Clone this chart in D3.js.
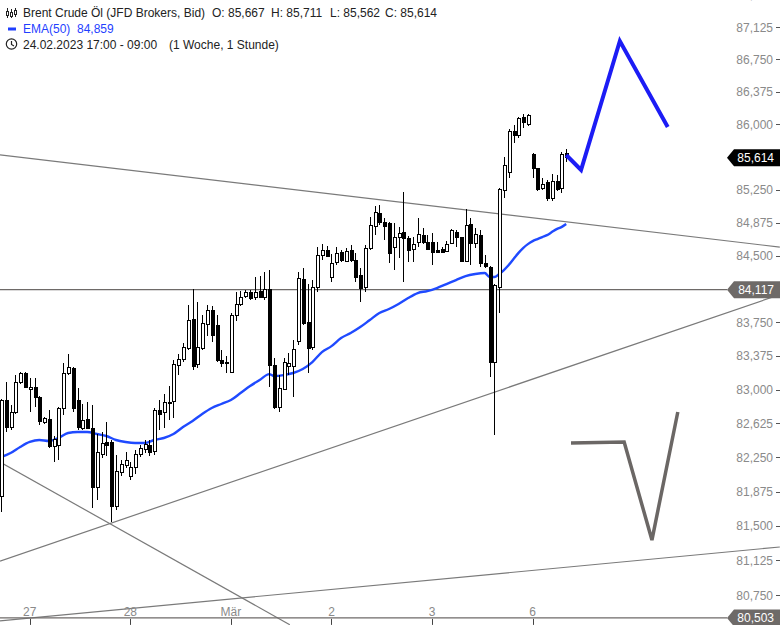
<!DOCTYPE html>
<html><head><meta charset="utf-8">
<script src="https://cdn.jsdelivr.net/npm/d3@7"></script>
<style>body{margin:0;background:#fff;} svg{display:block;font-family:"Liberation Sans",Arial,sans-serif;}</style>
</head><body><svg id="c" width="780" height="625"></svg>
<script>
// ---- data (hourly candles, 24.02.2023 17:00 – 06.03.2023 09:00) ----
const open = [
81.816,82.884,82.585,82.751,83.083,83.184,83.006,83.028,82.917,82.630,
82.663,82.365,82.376,82.795,83.184,83.239,82.884,82.574,82.663,82.574,
81.916,82.277,82.409,82.409,81.707,82.079,82.156,82.035,82.134,82.277,
82.332,82.376,82.310,82.773,82.751,82.862,82.873,83.273,83.339,83.462,
83.787,83.284,83.462,83.731,83.877,83.720,83.328,83.295,83.195,83.832,
83.955,84.045,84.090,84.023,84.101,84.034,84.124,83.273,82.806,83.006,
83.262,83.262,83.530,84.236,83.753,83.473,84.146,84.507,84.563,84.259,
84.428,84.541,84.439,84.563,84.450,84.281,84.146,84.586,84.835,84.983,
84.881,84.869,84.597,84.711,84.767,84.699,84.575,84.654,84.733,84.654,
84.654,84.563,84.575,84.552,84.643,84.767,84.711,84.439,84.858,84.643,
84.733,84.417,84.372,83.306,84.146,85.245,85.451,85.921,85.864,86.082,
86.001,85.657,85.486,85.268,85.337,85.154,85.348,85.268,85.667];
const high = [
82.895,83.083,82.829,83.161,83.195,83.195,83.128,83.128,82.928,82.696,
82.773,82.486,82.806,83.295,83.395,83.250,83.017,82.840,82.862,82.829,
82.508,82.530,82.641,82.442,82.277,82.221,82.310,82.200,82.332,82.387,
82.442,82.442,82.795,82.884,82.950,83.039,83.328,83.395,83.518,83.944,
84.124,83.978,83.832,83.944,83.933,83.832,83.440,83.373,83.854,84.090,
84.101,84.113,84.113,84.259,84.270,84.315,84.338,83.351,83.161,83.351,
83.406,83.552,84.315,84.360,84.180,84.225,84.597,84.631,84.608,84.518,
84.597,84.563,84.586,84.620,84.529,84.360,84.620,84.938,85.063,85.074,
84.926,84.881,84.869,84.824,85.223,84.722,84.711,84.926,84.813,84.733,
84.756,84.654,84.597,84.665,84.801,84.790,84.711,85.029,84.926,84.813,
84.790,84.507,84.383,84.180,85.268,85.623,85.944,85.990,86.082,86.117,
86.117,85.669,85.497,85.383,85.360,85.428,85.417,85.680,85.711];
const low = [
81.652,82.530,82.552,82.729,83.061,83.017,82.751,82.806,82.607,82.618,
82.354,82.200,82.221,82.718,83.161,82.751,82.552,82.552,82.563,81.696,
81.783,82.243,82.266,81.543,81.674,82.046,82.134,82.002,82.068,82.255,
82.299,82.266,82.277,82.552,82.574,82.663,82.685,83.161,83.306,83.440,
83.217,83.239,83.440,83.597,83.530,83.306,83.250,83.184,83.184,83.765,
83.933,84.023,84.000,84.000,84.023,84.000,83.028,82.784,82.751,82.994,
83.161,82.917,83.496,83.720,83.184,83.440,84.090,84.450,84.484,84.203,
84.394,84.428,84.428,84.428,84.203,83.978,84.090,84.563,84.733,84.847,
84.677,84.417,84.338,84.473,84.203,84.428,84.428,84.597,84.631,84.563,
84.394,84.529,84.529,84.541,84.631,84.597,84.428,84.428,84.394,84.586,
84.372,84.360,83.139,82.497,83.854,85.154,85.383,85.783,85.841,85.955,
85.978,85.383,85.234,85.245,85.120,85.120,85.234,85.211,85.562];
const close = [
82.884,82.585,82.751,83.083,83.184,83.028,83.028,82.917,82.641,82.674,
82.365,82.442,82.795,83.184,83.250,82.795,82.585,82.652,82.574,81.916,
82.299,82.398,82.376,81.707,82.090,82.167,82.221,82.134,82.277,82.343,
82.387,82.299,82.773,82.729,82.851,82.840,83.284,83.339,83.473,83.765,
83.262,83.473,83.742,83.877,83.608,83.328,83.295,83.306,83.832,83.955,
84.023,84.090,84.012,84.090,84.034,84.124,83.273,82.806,83.017,83.306,
83.295,83.451,84.248,83.742,83.462,84.146,84.507,84.563,84.495,84.417,
84.529,84.450,84.552,84.450,84.259,84.135,84.586,84.847,84.995,84.881,
84.835,84.529,84.711,84.756,84.699,84.563,84.631,84.745,84.654,84.575,
84.541,84.541,84.541,84.631,84.790,84.711,84.439,84.847,84.643,84.745,
84.417,84.383,83.306,84.169,85.257,85.520,85.921,85.864,86.070,86.024,
86.105,85.486,85.257,85.314,85.154,85.348,85.257,85.657,85.614];

// EMA(50) at candle numbers
const emaIdx = [1,3,5,7,9,11,13,15,17,19,21,23,25,27,29,31,33,35,37,39,41,43,45,47,49,51,53,55,57,
  58,60,62,64,66,68,70,72,74,76,78,80,82,84,86,88,90,92,94,96,98,100,102,
  103,104,105,106,107,108,109,110,111,112,113,114,115,116,117,118,119];
const emaVal = [82.254,82.298,82.365,82.420,82.442,82.431,82.464,82.519,82.530,82.530,82.508,82.486,82.442,82.420,82.409,82.409,82.442,82.464,82.508,82.585,82.652,82.729,82.795,82.840,82.884,82.961,83.039,83.106,83.172,
  83.150,83.161,83.184,83.228,83.306,83.417,83.484,83.574,83.630,83.697,83.776,83.854,83.899,83.955,84.023,84.079,84.101,84.135,84.180,84.225,84.270,84.293,84.304,
  84.259,84.259,84.293,84.338,84.394,84.462,84.529,84.586,84.631,84.665,84.688,84.711,84.733,84.767,84.801,84.824,84.859];

// day ticks (candle number where the day starts)
const dayTickIdx = [7,28,49,70,91,112];
const dayTickLabels = ["27","28","Mär","2","3","6"];

// price axis ticks (84,125 and 85,625 are covered by the price boxes)
const yTickValues = [80.75,81.125,81.5,81.875,82.25,82.625,83,83.375,83.75,84.5,84.875,85.25,86,86.375,86.75,87.125,87.5];
const yTickLabels = ["80,750","81,125","81,500","81,875","82,250","82,625","83,000","83,375","83,750","84,500","84,875","85,250","86,000","86,375","86,750","87,125","87,500"];

// drawn trend lines [candle number, price]
const trendFrom = [[0.79,85.648],[0.79,81.117],[0.79,80.472],[0.79,82.200]];
const trendTo   = [[163.6,84.597],[163.6,84.061],[163.6,81.270],[61.3,80.429]];

// drawn projections
const blueIdx = [119,122.1,130.2,140.2];
const blueVal = [85.646,85.474,86.962,85.967];
const greyIdx = [120.0,131.1,136.9,142.3];
const greyVal = [82.409,82.420,81.346,82.751];

// horizontal levels
const levelVals = [84.117,80.503];
const levelLabels = ["84,117","80,503"];
const lastPrice = 85.614, lastLabel = "85,614";

// ---- drawing ----
const svg = d3.select("#c");
const x = d3.scaleLinear().domain([1,119]).range([1,566.2]);
const y = d3.scaleLog().domain([80.75,87.125]).range([595,27]);

const plot = svg.append("g");

// trend lines
plot.selectAll("line.trend").data(trendFrom).join("line")
  .attr("x1",(d)=>x(d[0])).attr("y1",(d)=>y(d[1]))
  .attr("x2",(d,i)=>x(trendTo[i][0])).attr("y2",(d,i)=>y(trendTo[i][1]))
  .attr("stroke","#7a7a7a").attr("stroke-width",1.2);

// horizontal levels
plot.selectAll("line.level").data(levelVals).join("line")
  .attr("x1",0).attr("x2",727).attr("y1",d=>y(d)).attr("y2",d=>y(d))
  .attr("stroke","#6e6a68").attr("stroke-width",1.3);

// EMA
const emaData = emaIdx.map((d,i)=>[d,emaVal[i]]);
plot.append("path").datum(emaData)
  .attr("fill","none").attr("stroke","#1f4aff").attr("stroke-width",2.4)
  .attr("d", d3.line().x(d=>x(d[0])).y(d=>y(d[1])).curve(d3.curveMonotoneX));

// candles
const candles = open.map((o,i)=>({i:i+1,o,h:high[i],l:low[i],c:close[i]}));
const cg = plot.append("g").attr("shape-rendering","crispEdges");
cg.selectAll("line").data(candles).join("line")
  .attr("x1",d=>Math.round(x(d.i))+0.5).attr("x2",d=>Math.round(x(d.i))+0.5)
  .attr("y1",d=>y(d.h)).attr("y2",d=>y(d.l))
  .attr("stroke","#000").attr("stroke-width",1);
cg.selectAll("rect").data(candles).join("rect")
  .attr("x",d=>Math.round(x(d.i))-1)
  .attr("width",3)
  .attr("y",d=>y(Math.max(d.o,d.c)))
  .attr("height",d=>Math.max(1,y(Math.min(d.o,d.c))-y(Math.max(d.o,d.c))))
  .attr("fill",d=>d.c>=d.o?"#fff":"#000")
  .attr("stroke","#000").attr("stroke-width",1);

// projections
const pl = d3.line().x(d=>x(d[0])).y(d=>y(d[1]));
plot.append("path").datum(blueIdx.map((d,i)=>[d,blueVal[i]]))
  .attr("fill","none").attr("stroke","#1c1cf5").attr("stroke-width",4)
  .attr("stroke-linejoin","miter").attr("d",pl);
plot.append("path").datum(greyIdx.map((d,i)=>[d,greyVal[i]]))
  .attr("fill","none").attr("stroke","#6b6765").attr("stroke-width",3.5)
  .attr("stroke-linejoin","miter").attr("d",pl);

// x axis
const axY = y(80.503);
svg.selectAll("line.xt").data(dayTickIdx).join("line")
  .attr("x1",d=>Math.round(x(d))+0.5).attr("x2",d=>Math.round(x(d))+0.5)
  .attr("y1",axY+1).attr("y2",axY+7).attr("stroke","#444").attr("stroke-width",1);
svg.selectAll("text.xl").data(dayTickIdx).join("text")
  .attr("x",d=>x(d)).attr("y",axY-2).attr("text-anchor","middle")
  .attr("font-size",12).attr("fill","#8a8a8a").text((d,i)=>dayTickLabels[i]);

// y axis
const yt = svg.append("g");
yTickValues.forEach((v,i)=>{
  yt.append("text").attr("x",773).attr("y",y(v)+4.5).attr("text-anchor","end")
    .attr("font-size",12).attr("fill","#8a8a8a").text(yTickLabels[i]);
  yt.append("line").attr("x1",776).attr("x2",780).attr("y1",Math.round(y(v))+0.5).attr("y2",Math.round(y(v))+0.5)
    .attr("stroke","#555").attr("stroke-width",1);
});

// price boxes
function priceBox(v,label,fill){
  const cy=y(v), h=17;
  const g=svg.append("g");
  g.append("path").attr("d",`M727,${cy} L734,${cy-h/2} L780,${cy-h/2} L780,${cy+h/2} L734,${cy+h/2} Z`).attr("fill",fill);
  g.append("text").attr("x",774).attr("y",cy+4.5).attr("text-anchor","end")
    .attr("font-size",12).attr("fill","#fff").text(label);
}
levelVals.forEach((v,i)=>priceBox(v,levelLabels[i],"#6e6a68"));
priceBox(lastPrice,lastLabel,"#000");

// legend
const lg = svg.append("g").attr("font-size",12).attr("fill","#222");
const ic = lg.append("g").attr("stroke","#222").attr("stroke-width",1).attr("fill","none").attr("shape-rendering","crispEdges");
[[7.5,8,18,11,15],[11.5,9,18,12,16],[15.5,8,17,10,14]].forEach(a=>{
  ic.append("line").attr("x1",a[0]).attr("x2",a[0]).attr("y1",a[1]).attr("y2",a[2]);
  ic.append("rect").attr("x",a[0]-1).attr("y",a[3]).attr("width",2).attr("height",a[4]-a[3]).attr("fill","#fff");
});
lg.append("text").attr("x",23).attr("y",17).text("Brent Crude Öl (JFD Brokers, Bid)");
lg.append("text").attr("x",212).attr("y",17).text("O: 85,667");
lg.append("text").attr("x",271).attr("y",17).text("H: 85,711");
lg.append("text").attr("x",330).attr("y",17).text("L: 85,562");
lg.append("text").attr("x",385).attr("y",17).text("C: 85,614");
lg.append("rect").attr("x",8).attr("y",27.5).attr("width",8).attr("height",3).attr("fill","#1f3fff");
lg.append("text").attr("x",23).attr("y",33).attr("fill","#1f3fff").text("EMA(50)");
lg.append("text").attr("x",77).attr("y",33).attr("fill","#1f3fff").text("84,859");
const clk = lg.append("g").attr("stroke","#222").attr("fill","none").attr("stroke-width",1.2);
clk.append("circle").attr("cx",11.5).attr("cy",44).attr("r",5.2);
clk.append("path").attr("d","M11.5,41 L11.5,44.5 L14,46");
lg.append("text").attr("x",23).attr("y",49).text("24.02.2023 17:00 - 09:00");
lg.append("text").attr("x",169).attr("y",49).text("(1 Woche, 1 Stunde)");
</script></body></html>
